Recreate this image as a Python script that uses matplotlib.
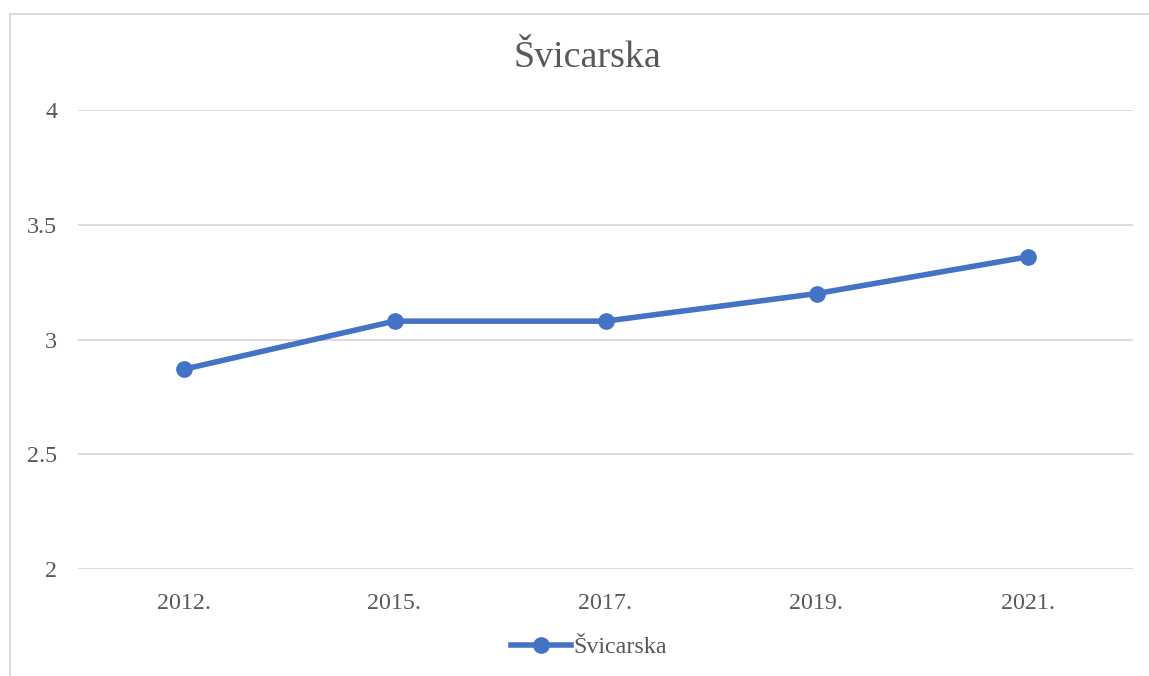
import matplotlib.pyplot as plt
from matplotlib.lines import Line2D

years = ['2012.', '2015.', '2017.', '2019.', '2021.']
values = [2.87, 3.08, 3.08, 3.20, 3.36]
label = 'Švicarska'

plt.rcParams['font.family'] = ['Liberation Serif', 'DejaVu Serif']

fig = plt.figure(figsize=(11.49, 6.76), dpi=100)
W, H = 1149, 676
ax = fig.add_axes([78 / W, 1 - 569 / H, (1133 - 78) / W, (569 - 110) / H])

blue = '#4472C4'
grey = '#595959'
x = range(len(years))
ax.plot(x, values, color=blue, linewidth=4, marker='o', markersize=11,
        solid_capstyle='round', label=label)

ax.set_xlim(-0.5, len(years) - 0.5)
ax.set_ylim(2, 4)
ax.set_yticks([2, 2.5, 3, 3.5, 4])
ax.set_yticklabels(['2', '2.5', '3', '3.5', '4'])
ax.set_xticks(list(x))
ax.set_xticklabels(years)
ax.tick_params(length=0, labelsize=17.3, colors=grey)
ax.tick_params(axis='x', pad=17.5)
ax.tick_params(axis='y', pad=15)
ax.grid(axis='y', color='#d9d9d9', linewidth=1.3)
ax.set_axisbelow(True)
for s in ax.spines.values():
    s.set_visible(False)

fig.text(587 / W, 1 - 67 / H, label, ha='center', va='baseline',
         fontsize=27.4, color=grey)

handle = Line2D([], [], color=blue, linewidth=4, marker='o', markersize=11)
fig.legend([handle], [label], loc='center', bbox_to_anchor=(589 / W, 1 - 647 / H),
           frameon=False, fontsize=17.3, labelcolor=grey, handlelength=2.5,
           handletextpad=0.1)

# chart border (left and top visible)
fig.add_artist(Line2D([10 / W, 10 / W], [0, 1 - 14 / H], color='#d9d9d9', linewidth=1.3))
fig.add_artist(Line2D([10 / W, 1], [1 - 14 / H, 1 - 14 / H], color='#d9d9d9', linewidth=1.3))

fig.savefig('out.png', dpi=100)
